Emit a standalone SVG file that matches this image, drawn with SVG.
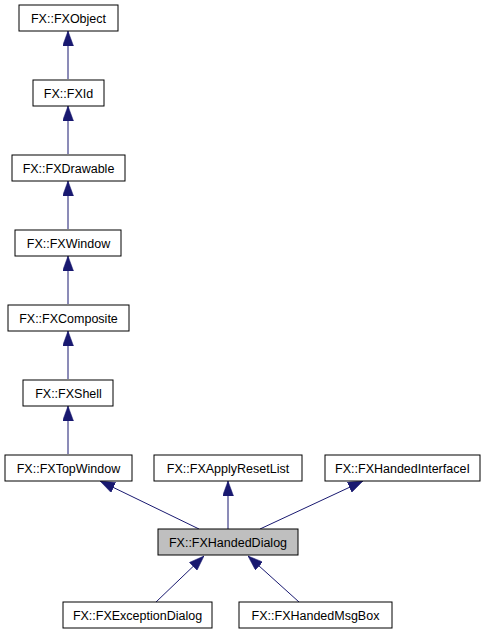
<svg xmlns="http://www.w3.org/2000/svg" width="485" height="635" viewBox="0 0 485 635">
<style>
.box{fill:#ffffff;stroke:#000000;stroke-width:1}
.cur{fill:#bfbfbf;stroke:#000000;stroke-width:1}
.lbl{font-family:"Liberation Sans",Arial,sans-serif;font-size:12.5px;fill:#000000;text-anchor:middle}
.edge{stroke:#191970;stroke-width:1;fill:none;marker-end:url(#arr)}
</style>
<defs>
<marker id="arr" viewBox="0 0 15 11" refX="15" refY="5.5" markerWidth="15" markerHeight="11" markerUnits="userSpaceOnUse" orient="auto">
<path d="M0,0 L15,5.5 L0,11 Z" fill="#191970" stroke="#191970" stroke-width="0.5"/>
</marker>
</defs>
<rect width="485" height="635" fill="#ffffff"/>
<g id="connectors">
<line class="edge" x1="68" y1="79" x2="68" y2="31"/>
<line class="edge" x1="68" y1="154" x2="68" y2="106"/>
<line class="edge" x1="68" y1="229" x2="68" y2="181"/>
<line class="edge" x1="68" y1="304" x2="68" y2="256"/>
<line class="edge" x1="68" y1="379" x2="68" y2="331"/>
<line class="edge" x1="68" y1="454" x2="68" y2="406"/>
<line class="edge" x1="199" y1="529" x2="100" y2="481"/>
<line class="edge" x1="228" y1="529" x2="228" y2="481"/>
<line class="edge" x1="260" y1="529" x2="363" y2="481"/>
<line class="edge" x1="156" y1="602" x2="204" y2="556"/>
<line class="edge" x1="299" y1="602" x2="248" y2="556"/>
</g>
<g id="FXObject"><rect class="box" x="19" y="5" width="99" height="26"/><text class="lbl" x="68.5" y="22.5">FX::FXObject</text></g>
<g id="FXId"><rect class="box" x="33" y="80" width="71" height="26"/><text class="lbl" x="68.5" y="97.5">FX::FXId</text></g>
<g id="FXDrawable"><rect class="box" x="12" y="155" width="113" height="26"/><text class="lbl" x="68.5" y="172.5">FX::FXDrawable</text></g>
<g id="FXWindow"><rect class="box" x="15" y="230" width="106" height="26"/><text class="lbl" x="68.5" y="247.5">FX::FXWindow</text></g>
<g id="FXComposite"><rect class="box" x="8" y="305" width="121" height="26"/><text class="lbl" x="68.5" y="322.5">FX::FXComposite</text></g>
<g id="FXShell"><rect class="box" x="23" y="380" width="90" height="26"/><text class="lbl" x="68.5" y="397.5">FX::FXShell</text></g>
<g id="FXTopWindow"><rect class="box" x="5" y="455" width="127" height="26"/><text class="lbl" x="68.5" y="472.5">FX::FXTopWindow</text></g>
<g id="FXApplyResetList"><rect class="box" x="154" y="455" width="148" height="26"/><text class="lbl" x="228" y="472.5">FX::FXApplyResetList</text></g>
<g id="FXHandedInterfaceI"><rect class="box" x="325" y="455" width="155" height="26"/><text class="lbl" x="402.5" y="472.5">FX::FXHandedInterfaceI</text></g>
<g id="FXHandedDialog"><rect class="cur" x="158" y="529" width="140" height="26"/><text class="lbl" x="228" y="546.5">FX::FXHandedDialog</text></g>
<g id="FXExceptionDialog"><rect class="box" x="63" y="602" width="149" height="26"/><text class="lbl" x="137.5" y="619.5">FX::FXExceptionDialog</text></g>
<g id="FXHandedMsgBox"><rect class="box" x="239" y="602" width="153" height="26"/><text class="lbl" x="315.5" y="619.5">FX::FXHandedMsgBox</text></g>
</svg>
